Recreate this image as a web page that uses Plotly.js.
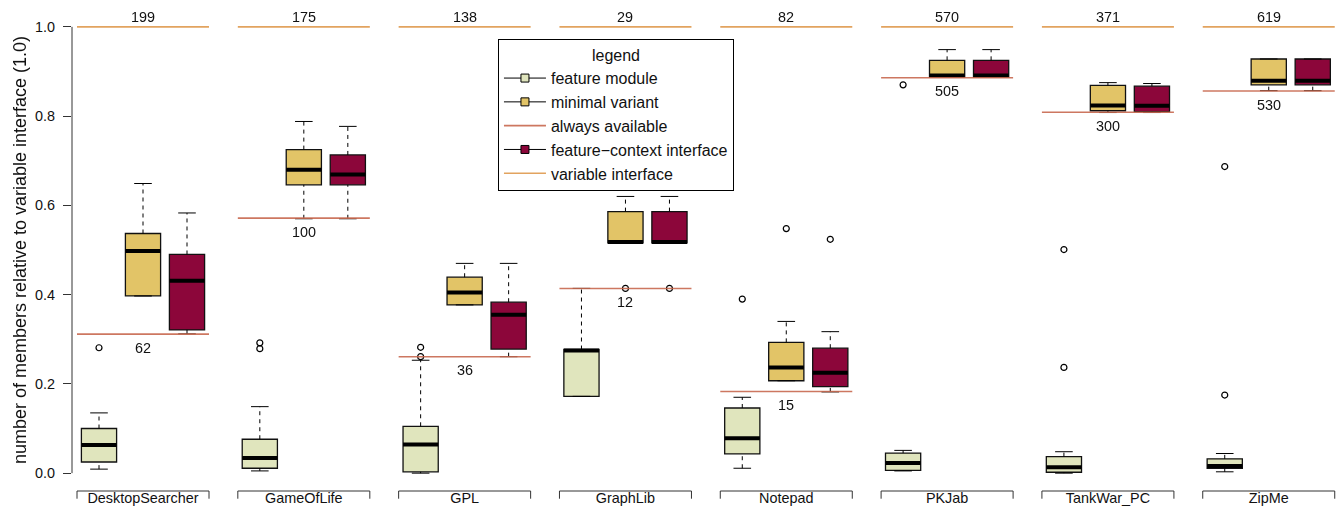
<!DOCTYPE html>
<html><head><meta charset="utf-8">
<script src="https://cdn.plot.ly/plotly-3.0.1.min.js"></script>
<style>html,body{margin:0;padding:0;background:#fff}#chart{width:1342px;height:508px}</style>
</head><body><div id="chart"></div>
<script>
// ---- data ----
const groups = ["DesktopSearcher","GameOfLife","GPL","GraphLib","Notepad","PKJab","TankWar_PC","ZipMe"];
const variableCount = [199,175,138,29,82,570,371,619];
const alwaysCount   = [62,100,36,12,15,505,300,530];

// feature module
const fmLow  = [0.009,0.005,0.000,0.172,0.011,0.005,0.000,0.003];
const fmQ1   = [0.025,0.011,0.003,0.172,0.043,0.006,0.002,0.011];
const fmMed  = [0.063,0.034,0.064,0.275,0.078,0.023,0.013,0.016];
const fmQ3   = [0.100,0.076,0.105,0.277,0.146,0.045,0.037,0.032];
const fmHigh = [0.135,0.149,0.253,0.414,0.170,0.051,0.048,0.044];
const fmOut  = [[0.281],[0.279,0.292],[0.261,0.282],[],[0.390],[0.870],[0.237,0.501],[0.175,0.687]];

// minimal variant
const mvLow  = [0.397,0.570,0.377,0.516,0.207,0.887,0.808,0.857];
const mvQ1   = [0.397,0.646,0.377,0.516,0.207,0.887,0.812,0.870];
const mvMed  = [0.498,0.680,0.405,0.518,0.237,0.891,0.824,0.879];
const mvQ3   = [0.537,0.725,0.439,0.586,0.293,0.925,0.869,0.928];
const mvHigh = [0.649,0.788,0.470,0.620,0.340,0.949,0.875,0.928];
const mvOut  = [[],[],[],[0.414],[0.548],[],[],[]];

// feature-context interface
const fcLow  = [0.312,0.570,0.261,0.516,0.182,0.887,0.808,0.857];
const fcQ1   = [0.321,0.646,0.278,0.516,0.194,0.887,0.810,0.870];
const fcMed  = [0.431,0.669,0.355,0.518,0.225,0.891,0.823,0.879];
const fcQ3   = [0.490,0.713,0.383,0.586,0.280,0.925,0.867,0.928];
const fcHigh = [0.583,0.777,0.470,0.620,0.317,0.949,0.873,0.928];
const fcOut  = [[],[],[],[0.414],[0.524],[],[],[]];

const seriesNames = ["feature module","minimal variant","feature\u2212context interface"];
const seriesFill  = ["#E0E5BD","#E2C467","#8C063A"];

// ---- layout helpers ----
const G = 3.655;              // spacing between groups, in box units
const pos = (g,k) => g*G + k; // box position
const FONT = "Liberation Sans, Arial, Helvetica, sans-serif";
const alwaysRatio = alwaysCount.map((c,i)=>c/variableCount[i]);

const stats = [
  {low:fmLow,q1:fmQ1,med:fmMed,q3:fmQ3,high:fmHigh,out:fmOut},
  {low:mvLow,q1:mvQ1,med:mvMed,q3:mvQ3,high:mvHigh,out:mvOut},
  {low:fcLow,q1:fcQ1,med:fcMed,q3:fcQ3,high:fcHigh,out:fcOut}
];

const traces = [];
stats.forEach((s,k)=>{
  const xs = groups.map((_,g)=>pos(g,k));
  const wx=[], wy=[], cx=[], cy=[], mx=[], my=[], ox=[], oy=[];
  xs.forEach((x,i)=>{
    wx.push(x,x,null,x,x,null); wy.push(s.q3[i],s.high[i],null,s.low[i],s.q1[i],null);
    cx.push(x-0.2,x+0.2,null,x-0.2,x+0.2,null); cy.push(s.high[i],s.high[i],null,s.low[i],s.low[i],null);
    mx.push(x-0.4,x+0.4,null); my.push(s.med[i],s.med[i],null);
    s.out[i].forEach(v=>{ox.push(x); oy.push(v);});
  });
  traces.push({type:"scatter",mode:"lines",x:wx,y:wy,line:{color:"#000",width:1,dash:"4px,4px"},showlegend:false,hoverinfo:"skip"});
  traces.push({type:"scatter",mode:"lines",x:cx,y:cy,line:{color:"#000",width:1},showlegend:false,hoverinfo:"skip"});
  traces.push({type:"box",x:xs,q1:s.q1,median:s.med,q3:s.q3,lowerfence:s.q1,upperfence:s.q3,
    width:0.8,whiskerwidth:0,fillcolor:seriesFill[k],line:{color:"#111",width:1.3},
    boxpoints:false,showlegend:false,hoverinfo:"skip"});
  traces.push({type:"scatter",mode:"lines",x:mx,y:my,line:{color:"#000",width:4},showlegend:false,hoverinfo:"skip"});
  traces.push({type:"scatter",mode:"markers",x:ox,y:oy,marker:{symbol:"circle-open",size:6,color:"#000",line:{width:1.2}},showlegend:false,hoverinfo:"skip",cliponaxis:false});
});

// always available + variable interface lines
const ax=[], ay=[], vx=[], vy=[];
groups.forEach((_,g)=>{
  ax.push(pos(g,0)-0.5,pos(g,2)+0.5,null); ay.push(alwaysRatio[g],alwaysRatio[g],null);
  vx.push(pos(g,0)-0.5,pos(g,2)+0.5,null); vy.push(1,1,null);
});
traces.push({type:"scatter",mode:"lines",name:"always available",x:ax,y:ay,line:{color:"#C8684F",width:1.6},opacity:0.9,legendrank:3,hoverinfo:"skip"});
traces.push({type:"scatter",mode:"lines",name:"variable interface",x:vx,y:vy,line:{color:"#E2A35F",width:1.6},legendrank:5,hoverinfo:"skip"});

// legend entries for the box series
const ranks=[1,2,4];
seriesNames.forEach((n,k)=>{
  traces.push({type:"scatter",mode:"lines+markers",name:n,x:[null],y:[null],legendrank:ranks[k],
    line:{color:"#000",width:1},marker:{symbol:"square",size:8,color:seriesFill[k],line:{color:"#000",width:1}}});
});

// annotations for counts
const annotations=[];
groups.forEach((_,g)=>{
  annotations.push({x:pos(g,1),y:1,xref:"x",yref:"y",text:String(variableCount[g]),showarrow:false,yanchor:"middle",yshift:9.5,font:{size:14.4,color:"#111",family:FONT}});
  annotations.push({x:pos(g,1),y:alwaysRatio[g],xref:"x",yref:"y",text:String(alwaysCount[g]),showarrow:false,yanchor:"middle",yshift:-13.5,font:{size:14.4,color:"#111",family:FONT}});
});

// axis brackets + y axis line
const shapes=[{type:"line",xref:"paper",yref:"y",x0:0,x1:0,y0:0,y1:1,line:{color:"#333",width:1}}];
groups.forEach((_,g)=>{
  const a=pos(g,0)-0.5, b=pos(g,2)+0.5;
  shapes.push({type:"path",xref:"x",yref:"paper",path:`M ${a},-0.016 L ${a},0 L ${b},0 L ${b},-0.016`,line:{color:"#333",width:1}});
});

const layout={
  width:1342,height:508,autosize:false,
  margin:{l:72,r:0,t:9,b:17,pad:0},
  paper_bgcolor:"#fff",plot_bgcolor:"#fff",
  font:{family:FONT,color:"#111",size:14.4},
  boxmode:"overlay",
  showlegend:true,
  legend:{x:0.3354,y:0.937,xanchor:"left",yanchor:"top",bgcolor:"#fff",bordercolor:"#000",borderwidth:1,
    font:{size:16,family:FONT,color:"#111"},title:{text:"legend",side:"top center",font:{size:16,family:FONT}},
    traceorder:"normal",itemwidth:42,tracegroupgap:0},
  xaxis:{range:[-0.6136,28.25],tickvals:groups.map((_,g)=>pos(g,1)),ticktext:groups,ticks:"",ticklabelstandoff:-3,
    showline:false,showgrid:false,zeroline:false,tickfont:{size:14.4},fixedrange:true},
  yaxis:{range:[-0.04,1.04],tickvals:[0,0.2,0.4,0.6,0.8,1.0],tickformat:".1f",ticks:"outside",ticklen:8,ticklabelstandoff:5,
    tickcolor:"#333",tickwidth:1,showline:false,showgrid:false,zeroline:false,tickfont:{size:14.4},
    title:{text:"number of members relative to variable interface (1.0)",font:{size:18}},fixedrange:true},
  annotations:annotations,shapes:shapes
};
Plotly.newPlot("chart",traces,layout,{displayModeBar:false,staticPlot:true});
</script></body></html>
